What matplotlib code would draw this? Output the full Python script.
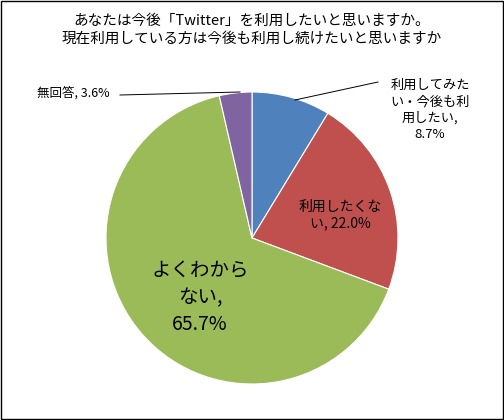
import matplotlib.pyplot as plt
from matplotlib.lines import Line2D

plt.rcParams['font.family'] = ['Noto Sans CJK JP', 'DejaVu Sans']

labels = ['利用してみたい・今後も利用したい', '利用したくない', 'よくわからない', '無回答']
values = [8.7, 22.0, 65.7, 3.6]
colors = ['#4F81BD', '#C0504D', '#9BBB59', '#8064A2']
title = 'あなたは今後「Twitter」を利用したいと思いますか。\n現在利用している方は今後も利用し続けたいと思いますか'

W, H = 504, 420
fig = plt.figure(figsize=(W / 100, H / 100), dpi=100)
cx, cy, r = 252, 238, 146
ax = fig.add_axes([(cx - r) / W, (H - cy - r) / H, 2 * r / W, 2 * r / H])
ax.pie(values, colors=colors, startangle=90, counterclock=False,
       wedgeprops=dict(edgecolor='white', linewidth=0.8))
ax.set_xlim(-1, 1)
ax.set_ylim(-1, 1)
ax.set_aspect('equal')

def px(x, y):
    return x / W, 1 - y / H

fig.text(*px(252, 30), title, ha='center', va='center', fontsize=10.5, linespacing=1.4)

fig.text(*px(430, 110), '利用してみた\nい・今後も利\n用したい,\n%.1f%%' % values[0],
         ha='center', va='center', fontsize=9.5, linespacing=1.3)
fig.text(*px(340, 215), '利用したくな\nい, %.1f%%' % values[1],
         ha='center', va='center', fontsize=10, linespacing=1.3)
fig.text(*px(200, 298), 'よくわから\nない,\n%.1f%%' % values[2],
         ha='center', va='center', fontsize=14, linespacing=1.35)
fig.text(*px(73, 93), '無回答, %.1f%%' % values[3],
         ha='center', va='center', fontsize=9)

for (x0, y0), (x1, y1) in [((120, 95), (240, 92)), ((378, 82), (295, 100))]:
    a, b = px(x0, y0)
    c, d = px(x1, y1)
    fig.add_artist(Line2D([a, c], [b, d], color='black', linewidth=0.7))

fig.add_artist(plt.Rectangle((0.002, 0.002), 0.996, 0.996, fill=False,
                             edgecolor='black', linewidth=1, transform=fig.transFigure))
fig.savefig('out.png', dpi=100)
